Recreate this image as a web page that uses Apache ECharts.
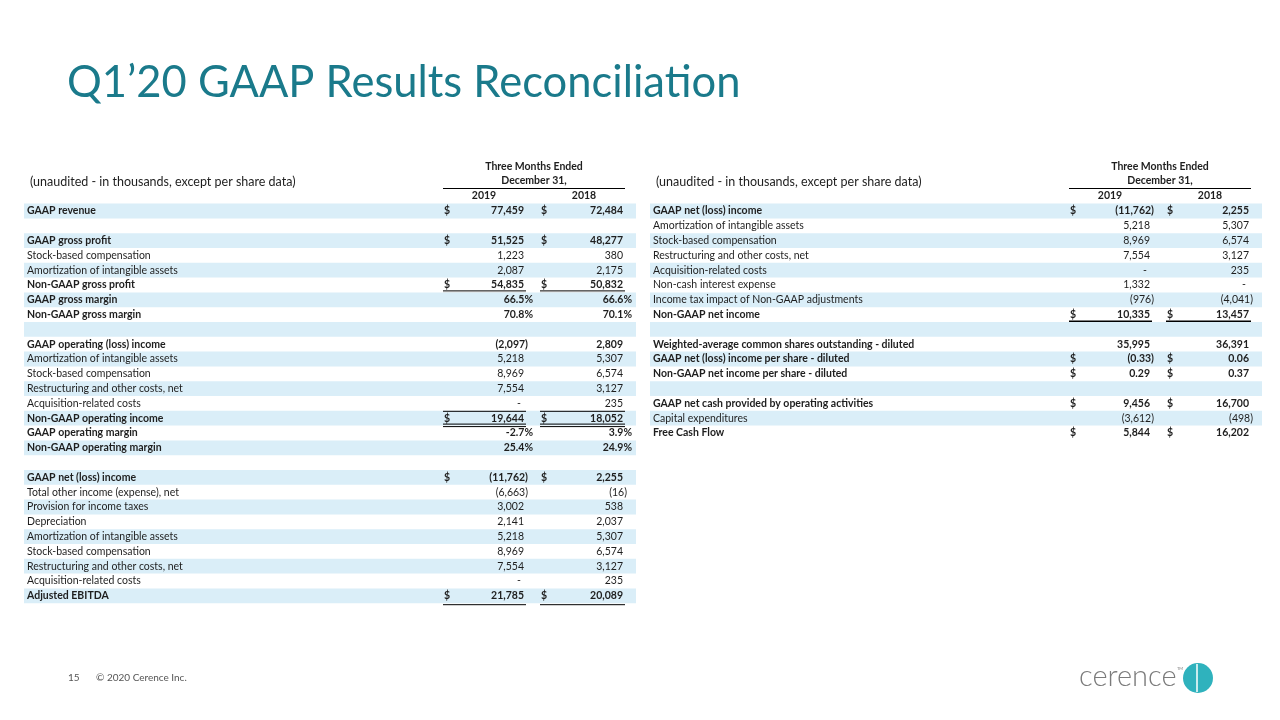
<!DOCTYPE html>
<html>
<head>
<meta charset="utf-8">
<script src="https://cdn.jsdelivr.net/npm/echarts@6/dist/echarts.min.js"></script>
<style>
html,body{margin:0;padding:0;background:#fff;}
#main{width:1280px;height:720px;}
</style>
</head>
<body>
<div id="main"></div>
<script>
// ---------- DATA ----------
const titleText = 'Q1\u201920 GAAP Results Reconciliation';
const unitNote = '(unaudited - in thousands, except per share data)';
const periodHeader = ['Three Months Ended', 'December 31,'];
const yearLabels = ['2019', '2018'];

const leftLabels = [
  'GAAP revenue', '', 'GAAP gross profit', 'Stock-based compensation', 'Amortization of intangible assets',
  'Non-GAAP gross profit', 'GAAP gross margin', 'Non-GAAP gross margin', '',
  'GAAP operating (loss) income', 'Amortization of intangible assets', 'Stock-based compensation',
  'Restructuring and other costs, net', 'Acquisition-related costs', 'Non-GAAP operating income',
  'GAAP operating margin', 'Non-GAAP operating margin', '',
  'GAAP net (loss) income', 'Total other income (expense), net', 'Provision for income taxes', 'Depreciation',
  'Amortization of intangible assets', 'Stock-based compensation', 'Restructuring and other costs, net',
  'Acquisition-related costs', 'Adjusted EBITDA'
];
const left2019 = [77459, null, 51525, 1223, 2087, 54835, 66.5, 70.8, null,
  -2097, 5218, 8969, 7554, 0, 19644, -2.7, 25.4, null,
  -11762, -6663, 3002, 2141, 5218, 8969, 7554, 0, 21785];
const left2018 = [72484, null, 48277, 380, 2175, 50832, 66.6, 70.1, null,
  2809, 5307, 6574, 3127, 235, 18052, 3.9, 24.9, null,
  2255, -16, 538, 2037, 5307, 6574, 3127, 235, 20089];
const leftFormat = ['n', null, 'n', 'n', 'n', 'n', 'p', 'p', null,
  'n', 'n', 'n', 'n', 'n', 'n', 'p', 'p', null,
  'n', 'n', 'n', 'n', 'n', 'n', 'n', 'n', 'n'];
const leftBoldRows = [0, 2, 5, 6, 7, 9, 14, 15, 16, 18, 26];
const leftDollarRows = [0, 2, 5, 14, 18, 26];
const leftRules = {5: 'double', 14: 'top-double', 26: 'single'};

const rightLabels = [
  'GAAP net (loss) income', 'Amortization of intangible assets', 'Stock-based compensation',
  'Restructuring and other costs, net', 'Acquisition-related costs', 'Non-cash interest expense',
  'Income tax impact of Non-GAAP adjustments', 'Non-GAAP net income', '',
  'Weighted-average common shares outstanding - diluted', 'GAAP net (loss) income per share - diluted',
  'Non-GAAP net income per share - diluted', '',
  'GAAP net cash provided by operating activities', 'Capital expenditures', 'Free Cash Flow'
];
const right2019 = [-11762, 5218, 8969, 7554, 0, 1332, -976, 10335, null,
  35995, -0.33, 0.29, null, 9456, -3612, 5844];
const right2018 = [2255, 5307, 6574, 3127, 235, 0, -4041, 13457, null,
  36391, 0.06, 0.37, null, 16700, -498, 16202];
const rightFormat = ['n', 'n', 'n', 'n', 'n', 'n', 'n', 'n', null,
  'n', 'd', 'd', null, 'n', 'n', 'n'];
const rightBoldRows = [0, 7, 9, 10, 11, 13, 15];
const rightDollarRows = [0, 7, 10, 11, 13, 15];
const rightRules = {7: 'thick'};

const footerPage = '15';
const footerCopy = '\u00a9 2020 Cerence Inc.';
const logoWord = 'cerence';

// ---------- LAYOUT / STYLE ----------
const FONT = 'Lato, "Open Sans", sans-serif';
const TXT = '#1e1e1e';
const BAND = '#daeef8';
const TEAL = '#1a7a8b';
const ROW_H = 14.8;
const TABLE_W = 612;
const TOP = 203.6;
// column offsets inside a table (axis units == px)
const COL = {label: 3, dollar1: 420, val1: 500, dollar2: 517, val2: 599};

function fmtValue(v, type) {
  if (v === null || v === undefined) return null;
  if (type === 'p') return {t: v.toFixed(1) + '%', dx: 9};
  if (type === 'd') return v < 0 ? {t: '(' + Math.abs(v).toFixed(2) + ')', dx: 4} : {t: v.toFixed(2), dx: 0};
  if (v === 0) return {t: '-', dx: -3};
  const s = Math.abs(v).toLocaleString('en-US');
  return v < 0 ? {t: '(' + s + ')', dx: 4} : {t: s, dx: 0};
}

function makeRender(labels, v19, v18, fmts, boldRows, dollarRows, rules) {
  return function (params, api) {
    const i = api.value(1);
    const p0 = api.coord([0, i]);
    const x0 = p0[0], yc = p0[1];
    const h = api.size([0, 1])[1];
    const top = yc - h / 2, bot = yc + h / 2;
    const bold = boldRows.indexOf(i) >= 0;
    const font = (bold ? 'bold ' : '') + '10.5px ' + FONT;
    const ch = [];
    if (i % 2 === 0) {
      ch.push({type: 'rect', shape: {x: x0, y: top, width: TABLE_W, height: h}, style: {fill: BAND}, silent: true});
    }
    if (labels[i]) {
      ch.push({type: 'text', style: {text: labels[i], x: x0 + COL.label, y: yc, align: 'left', verticalAlign: 'middle', font: font, fill: TXT}});
    }
    if (dollarRows.indexOf(i) >= 0) {
      ch.push({type: 'text', style: {text: '$', x: x0 + COL.dollar1, y: yc, align: 'left', verticalAlign: 'middle', font: font, fill: TXT}});
      ch.push({type: 'text', style: {text: '$', x: x0 + COL.dollar2, y: yc, align: 'left', verticalAlign: 'middle', font: font, fill: TXT}});
    }
    const a = fmtValue(v19[i], fmts[i]);
    const b = fmtValue(v18[i], fmts[i]);
    if (a) ch.push({type: 'text', style: {text: a.t, x: x0 + COL.val1 + a.dx, y: yc, align: 'right', verticalAlign: 'middle', font: font, fill: TXT}});
    if (b) ch.push({type: 'text', style: {text: b.t, x: x0 + COL.val2 + b.dx, y: yc, align: 'right', verticalAlign: 'middle', font: font, fill: TXT}});
    const r = rules[i];
    const segs = [[COL.dollar1 - 1, COL.val1 + 2], [COL.dollar2 - 1, COL.val2 + 2]];
    const line = (y, w) => segs.forEach(s => ch.push({type: 'line', shape: {x1: x0 + s[0], y1: y, x2: x0 + s[1], y2: y}, style: {stroke: '#000', lineWidth: w}, silent: true}));
    if (r === 'double' || r === 'top-double') { line(bot - 1.5, 1); line(bot + 1, 1); }
    if (r === 'top-double') line(top + 0.5, 1);
    if (r === 'single') line(bot + 1.5, 1);
    if (r === 'thick') line(bot - 0.5, 2);
    return {type: 'group', children: ch};
  };
}

function headerGraphics(left) {
  const lineX1 = left + COL.dollar1 - 1, lineX2 = left + COL.val2 + 2;
  const cx = (lineX1 + lineX2) / 2;
  return [
    {type: 'text', left: left + 6, top: 175, style: {text: unitNote, font: '12.5px ' + FONT, fill: TXT}},
    {type: 'text', x: cx, y: 167, style: {text: periodHeader[0], align: 'center', verticalAlign: 'middle', font: 'bold 10.5px ' + FONT, fill: TXT}},
    {type: 'text', x: cx, y: 181, style: {text: periodHeader[1], align: 'center', verticalAlign: 'middle', font: 'bold 10.5px ' + FONT, fill: TXT}},
    {type: 'line', shape: {x1: lineX1, y1: 188.5, x2: lineX2, y2: 188.5}, style: {stroke: '#000', lineWidth: 1}},
    {type: 'text', x: left + (COL.dollar1 + COL.val1) / 2, y: 196, style: {text: yearLabels[0], align: 'center', verticalAlign: 'middle', font: 'bold 10.5px ' + FONT, fill: TXT}},
    {type: 'text', x: left + (COL.dollar2 + COL.val2) / 2 + 2, y: 196, style: {text: yearLabels[1], align: 'center', verticalAlign: 'middle', font: 'bold 10.5px ' + FONT, fill: TXT}}
  ];
}

const LEFT_X = 24, RIGHT_X = 650;
const chart = echarts.init(document.getElementById('main'), null, {renderer: 'canvas'});
const idx = arr => arr.map((_, i) => i);

chart.setOption({
  animation: false,
  backgroundColor: '#fff',
  grid: [
    {left: LEFT_X, top: TOP, width: TABLE_W, height: leftLabels.length * ROW_H},
    {left: RIGHT_X, top: TOP, width: TABLE_W, height: rightLabels.length * ROW_H}
  ],
  xAxis: [
    {gridIndex: 0, type: 'value', min: 0, max: TABLE_W, show: false},
    {gridIndex: 1, type: 'value', min: 0, max: TABLE_W, show: false}
  ],
  yAxis: [
    {gridIndex: 0, type: 'category', data: idx(leftLabels), inverse: true, show: false},
    {gridIndex: 1, type: 'category', data: idx(rightLabels), inverse: true, show: false}
  ],
  series: [
    {type: 'custom', xAxisIndex: 0, yAxisIndex: 0, encode: {x: 0, y: 1},
      data: leftLabels.map((_, i) => [0, i]),
      renderItem: makeRender(leftLabels, left2019, left2018, leftFormat, leftBoldRows, leftDollarRows, leftRules)},
    {type: 'custom', xAxisIndex: 1, yAxisIndex: 1, encode: {x: 0, y: 1},
      data: rightLabels.map((_, i) => [0, i]),
      renderItem: makeRender(rightLabels, right2019, right2018, rightFormat, rightBoldRows, rightDollarRows, rightRules)}
  ],
  graphic: [
    {type: 'text', left: 67, top: 61, style: {text: titleText, font: '43.5px ' + FONT, fill: TEAL}},
    ...headerGraphics(LEFT_X),
    ...headerGraphics(RIGHT_X),
    {type: 'text', left: 68, top: 673, style: {text: footerPage, font: '10px ' + FONT, fill: '#555'}},
    {type: 'text', left: 96, top: 673, style: {text: footerCopy, font: '10px ' + FONT, fill: '#555'}},
    {type: 'text', left: 1079, top: 662, style: {text: logoWord, font: '300 29px ' + FONT, fill: '#7b7b7b'}},
    {type: 'text', left: 1177, top: 667, style: {text: 'TM', font: '4px ' + FONT, fill: '#7b7b7b'}},
    {type: 'circle', shape: {cx: 1198, cy: 678, r: 15}, style: {fill: '#2fb2bd'}},
    {type: 'line', shape: {x1: 1197, y1: 664, x2: 1197, y2: 692}, style: {stroke: '#fff', lineWidth: 1.5}}
  ]
});
</script>
</body>
</html>
